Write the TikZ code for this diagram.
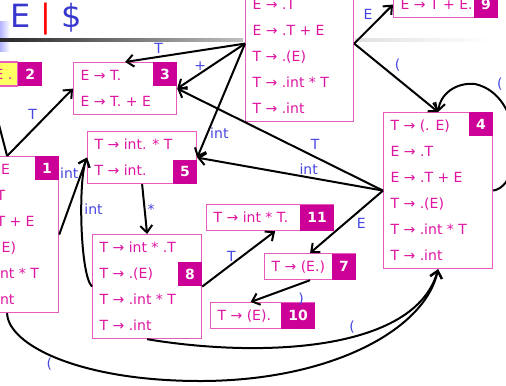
\documentclass[tikz,border=0pt]{standalone}
\usepackage{fontspec}
\setmainfont{DejaVu Sans}
\usetikzlibrary{arrows.meta,calc}

\definecolor{itemmag}{RGB}{222,20,160}
\definecolor{tilemag}{RGB}{204,0,150}
\definecolor{boxpink}{RGB}{232,90,190}
\definecolor{lblblue}{RGB}{70,70,225}
\definecolor{ttlblue}{RGB}{55,55,205}
\definecolor{ylw}{RGB}{255,255,100}

% one item per row, rows 13pt apart
\newcommand{\items}[2]{\begin{tabular}{@{}p{#1}@{}}#2\end{tabular}}

\begin{document}
\begin{tikzpicture}[x=0.5pt, y=-0.5pt,
    stbox/.style={draw=boxpink, line width=0.6pt, anchor=north west, inner xsep=3.5pt, inner ysep=0pt, text=itemmag, font=\fontsize{7}{13}\selectfont},
    tile/.style={fill=tilemag, text=white, inner xsep=3.5pt, inner ysep=0pt, minimum width=11pt, minimum height=12pt, font=\fontsize{7}{8}\selectfont\bfseries},
    arr/.style={-{Straight Barb[length=3.5pt, width=6pt]}, line width=1pt},
    lbl/.style={text=lblblue, font=\fontsize{7}{8}\selectfont, inner sep=1pt}
]
\useasboundingbox (0,0) rectangle (506,385);
\clip (0,0) rectangle (506,385);

% slide header
\shade[left color=blue!30!white, right color=white] (0,22) rectangle (10,52);
\shade[left color=black!85, right color=black!25] (0,39) rectangle (243,42);
\shade[left color=black!12, right color=white] (355,39) rectangle (490,42);
\node[anchor=base west, inner sep=0pt, font=\fontsize{16}{16}\selectfont] (title) at (10,28)
    {\textcolor{ttlblue}{E} \textcolor{red}{|} \textcolor{ttlblue}{\$}};

% states
\node[stbox] (s0) at (245,-35) {\items{47pt}{\\ E → .T\\ E → .T + E\\ T → .(E)\\ T → .int * T\\ T → .int}};
\node[stbox] (box1) at (-45,156) {\items{44.5pt}{S' → .E\\ E → .T\\ E → .T + E\\ T → .(E)\\ T → .int * T\\ T → .int}};
\node[tile, anchor=north east] (t1) at (box1.north east) {1};
\node[anchor=east, fill=ylw, draw=boxpink, line width=0.6pt, text=itemmag, inner xsep=2.5pt, inner ysep=0pt, minimum height=12pt, font=\fontsize{7}{8}\selectfont] (box2) at (18,74) {E .};
\node[tile, anchor=west] (t2) at (box2.east) {2};
\node[stbox] (box3) at (73,62) {\items{44.5pt}{E → T.\\ E → T. + E}};
\node[tile, anchor=north east] (t3) at (box3.north east) {3};
\node[stbox] (box4) at (383,112) {\items{47.5pt}{T → (. E)\\ E → .T\\ E → .T + E\\ T → .(E)\\ T → .int * T\\ T → .int}};
\node[tile, anchor=north east] (t4) at (box4.north east) {4};
\node[stbox] (box5) at (87,131) {\items{47.5pt}{T → int. * T\\ T → int.}};
\node[tile, anchor=south east] (t5) at (box5.south east) {5};
\node[stbox] (box7) at (264,253) {\items{38.5pt}{T → (E.)}};
\node[tile, anchor=east, minimum height=13pt] (t7) at (box7.east) {7};
\node[stbox] (box8) at (92,234) {\items{47.5pt}{T → int * .T\\ T → .(E)\\ T → .int * T\\ T → .int}};
\node[tile, anchor=north east] (t8) at ($(box8.north east)+(0,28)$) {8};
\node[stbox] (box9) at (393,-9) {\items{45pt}{E → T + E.}};
\node[tile, anchor=east, minimum height=13pt] (t9) at (box9.east) {9};
\node[stbox] (box10) at (210,302) {\items{45pt}{T → (E).}};
\node[tile, anchor=east, minimum height=13pt] (t10) at (box10.east) {10};
\node[stbox] (box11) at (206,204) {\items{56.5pt}{T → int * T.}};
\node[tile, anchor=east, minimum height=13pt] (t11) at (box11.east) {11};

% transitions
\draw[arr] (s0.west) -- node[lbl, pos=0.72, above] {T} (box3.north);
\draw[arr] (s0.west) -- node[lbl, pos=0.66, above] {+} (box3.east);
\draw[arr] (s0.west) -- node[lbl, pos=0.79, right] {int} (box5.east);
\draw[arr] (s0.east) -- node[lbl, pos=0.45, above right] {(} (box4.north);
\draw[arr] (s0.east) -- node[lbl, pos=0.55, above left] {E} (box9.west);
\draw[arr] (box4.east) .. controls (525,185) and (525,95) .. node[lbl, pos=0.85, above right] {(} (475,84)
    .. controls (455,82) and (440,95) .. (box4.north);
\draw[arr] (box4.west) -- node[lbl, pos=0.4, above] {int} (box5.east);
\draw[arr] (box4.west) -- node[lbl, pos=0.33, above=2pt] {T} (box3.east);
\draw[arr] (box4.west) -- node[lbl, pos=0.4, below right] {E} (box7.north);
\draw[arr] (box7.south) -- node[lbl, pos=0.15, below=3pt] {)} ($(box10.north)+(-12,0)$);
\draw[arr] (box8.east) -- node[lbl, pos=0.4, above] {T} ($(box11.south)+(5,0)$);
\draw[arr] (box5.south) -- node[lbl, pos=0.5, right] {*} (box8.north);
\draw[arr] (box1.east) -- node[lbl, pos=0.8, left] {int} (box5.west);
\draw[arr] (box8.west) .. controls (80,275) and (78,180) .. node[lbl, pos=0.6, right] {int} (box5.west);
\draw[arr] (box1.north) -- node[lbl, pos=0.5, above left] {T} (box3.west);
\draw[arr] (box1.north) -- (box2.south west);
\draw[arr] (box1.south) .. controls (8,345) and (80,381) .. node[lbl, pos=0.45, below] {(} (200,381)
    .. controls (330,381) and (425,330) .. (box4.south);
\draw[arr] (box8.south) .. controls (260,358) and (415,352) .. node[lbl, pos=0.58, above] {(} (box4.south);
\end{tikzpicture}
\end{document}
